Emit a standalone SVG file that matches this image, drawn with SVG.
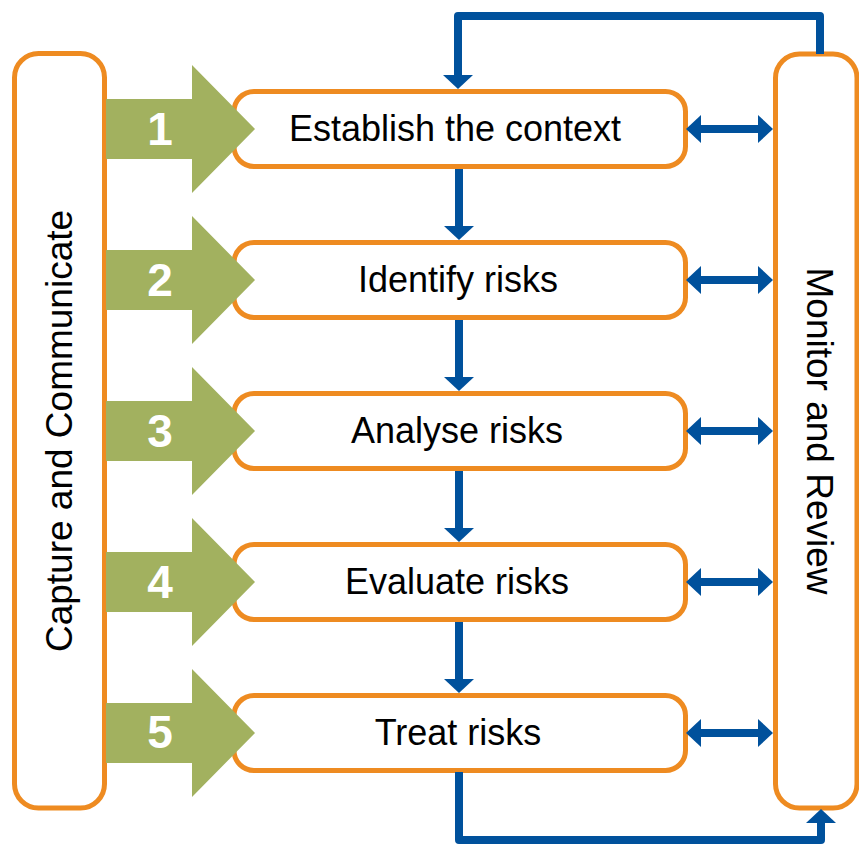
<svg xmlns="http://www.w3.org/2000/svg" width="859" height="846" viewBox="0 0 859 846">
<defs>
<style>
.box{fill:#fff;stroke:#EE8B21;stroke-width:5}
.lbl{font-family:"Liberation Sans",Arial,sans-serif;font-size:36px;fill:#000;text-anchor:middle}
.side{font-family:"Liberation Sans",Arial,sans-serif;font-size:37px;fill:#000;text-anchor:middle}
.num{font-family:"Liberation Sans",Arial,sans-serif;font-size:46px;font-weight:bold;fill:#fff;text-anchor:middle}
.green{fill:#A2B15F}
.line{fill:none;stroke:#00519C;stroke-width:8;stroke-linejoin:round}
.head{fill:#00519C}
</style>
<polygon id="stepArrow" class="green" points="106,-30 192,-30 192,-64 255,0 192,64 192,30 106,30"/>
<g id="dbl">
<rect class="head" x="698" y="-4" width="63" height="8"/>
<polygon class="head" points="686,0 701,-14 701,14"/>
<polygon class="head" points="773,0 758,-14 758,14"/>
</g>
<g id="down">
<rect class="head" x="455" y="-71" width="8" height="58"/>
<polygon class="head" points="444,-14 474,-14 459,0"/>
</g>
</defs>

<g id="capture">
<rect class="box" x="14.5" y="53.5" width="90" height="754.5" rx="24"/>
<text class="side" transform="translate(72,431) rotate(-90)">Capture and Communicate</text>
</g>

<g id="monitor">
<rect class="box" x="775.5" y="54" width="81.5" height="754" rx="24"/>
<text class="side" transform="translate(807,431) rotate(90)">Monitor and Review</text>
</g>

<g id="step1">
<rect class="box" x="234" y="91.5" width="451.5" height="75" rx="20"/>
<text class="lbl" x="455" y="141">Establish the context</text>
</g>
<g id="step2">
<rect class="box" x="234" y="242.5" width="451.5" height="75" rx="20"/>
<text class="lbl" x="458" y="292">Identify risks</text>
</g>
<g id="step3">
<rect class="box" x="234" y="393.5" width="451.5" height="75" rx="20"/>
<text class="lbl" x="457" y="443">Analyse risks</text>
</g>
<g id="step4">
<rect class="box" x="234" y="544.5" width="451.5" height="75" rx="20"/>
<text class="lbl" x="457" y="594">Evaluate risks</text>
</g>
<g id="step5">
<rect class="box" x="234" y="695.5" width="451.5" height="75" rx="20"/>
<text class="lbl" x="458" y="745">Treat risks</text>
</g>

<g id="arrow1"><use href="#stepArrow" transform="translate(0,129)"/><text class="num" x="160" y="145">1</text></g>
<g id="arrow2"><use href="#stepArrow" transform="translate(0,280)"/><text class="num" x="160" y="296">2</text></g>
<g id="arrow3"><use href="#stepArrow" transform="translate(0,431)"/><text class="num" x="160" y="447">3</text></g>
<g id="arrow4"><use href="#stepArrow" transform="translate(0,582)"/><text class="num" x="160" y="598">4</text></g>
<g id="arrow5"><use href="#stepArrow" transform="translate(0,733)"/><text class="num" x="160" y="748">5</text></g>

<g id="connectors">
<use href="#dbl" transform="translate(0,129)"/>
<use href="#dbl" transform="translate(0,280)"/>
<use href="#dbl" transform="translate(0,431)"/>
<use href="#dbl" transform="translate(0,582)"/>
<use href="#dbl" transform="translate(0,733)"/>
<use href="#down" transform="translate(0,240)"/>
<use href="#down" transform="translate(0,391)"/>
<use href="#down" transform="translate(0,542)"/>
<use href="#down" transform="translate(0,693)"/>
<path class="line" d="M820,54 V16 H458 V76"/>
<polygon class="head" points="443,75 473,75 458,89"/>
<path class="line" d="M459,772 V840 H821 V822"/>
<polygon class="head" points="806,823 836,823 821,809"/>
</g>
</svg>
